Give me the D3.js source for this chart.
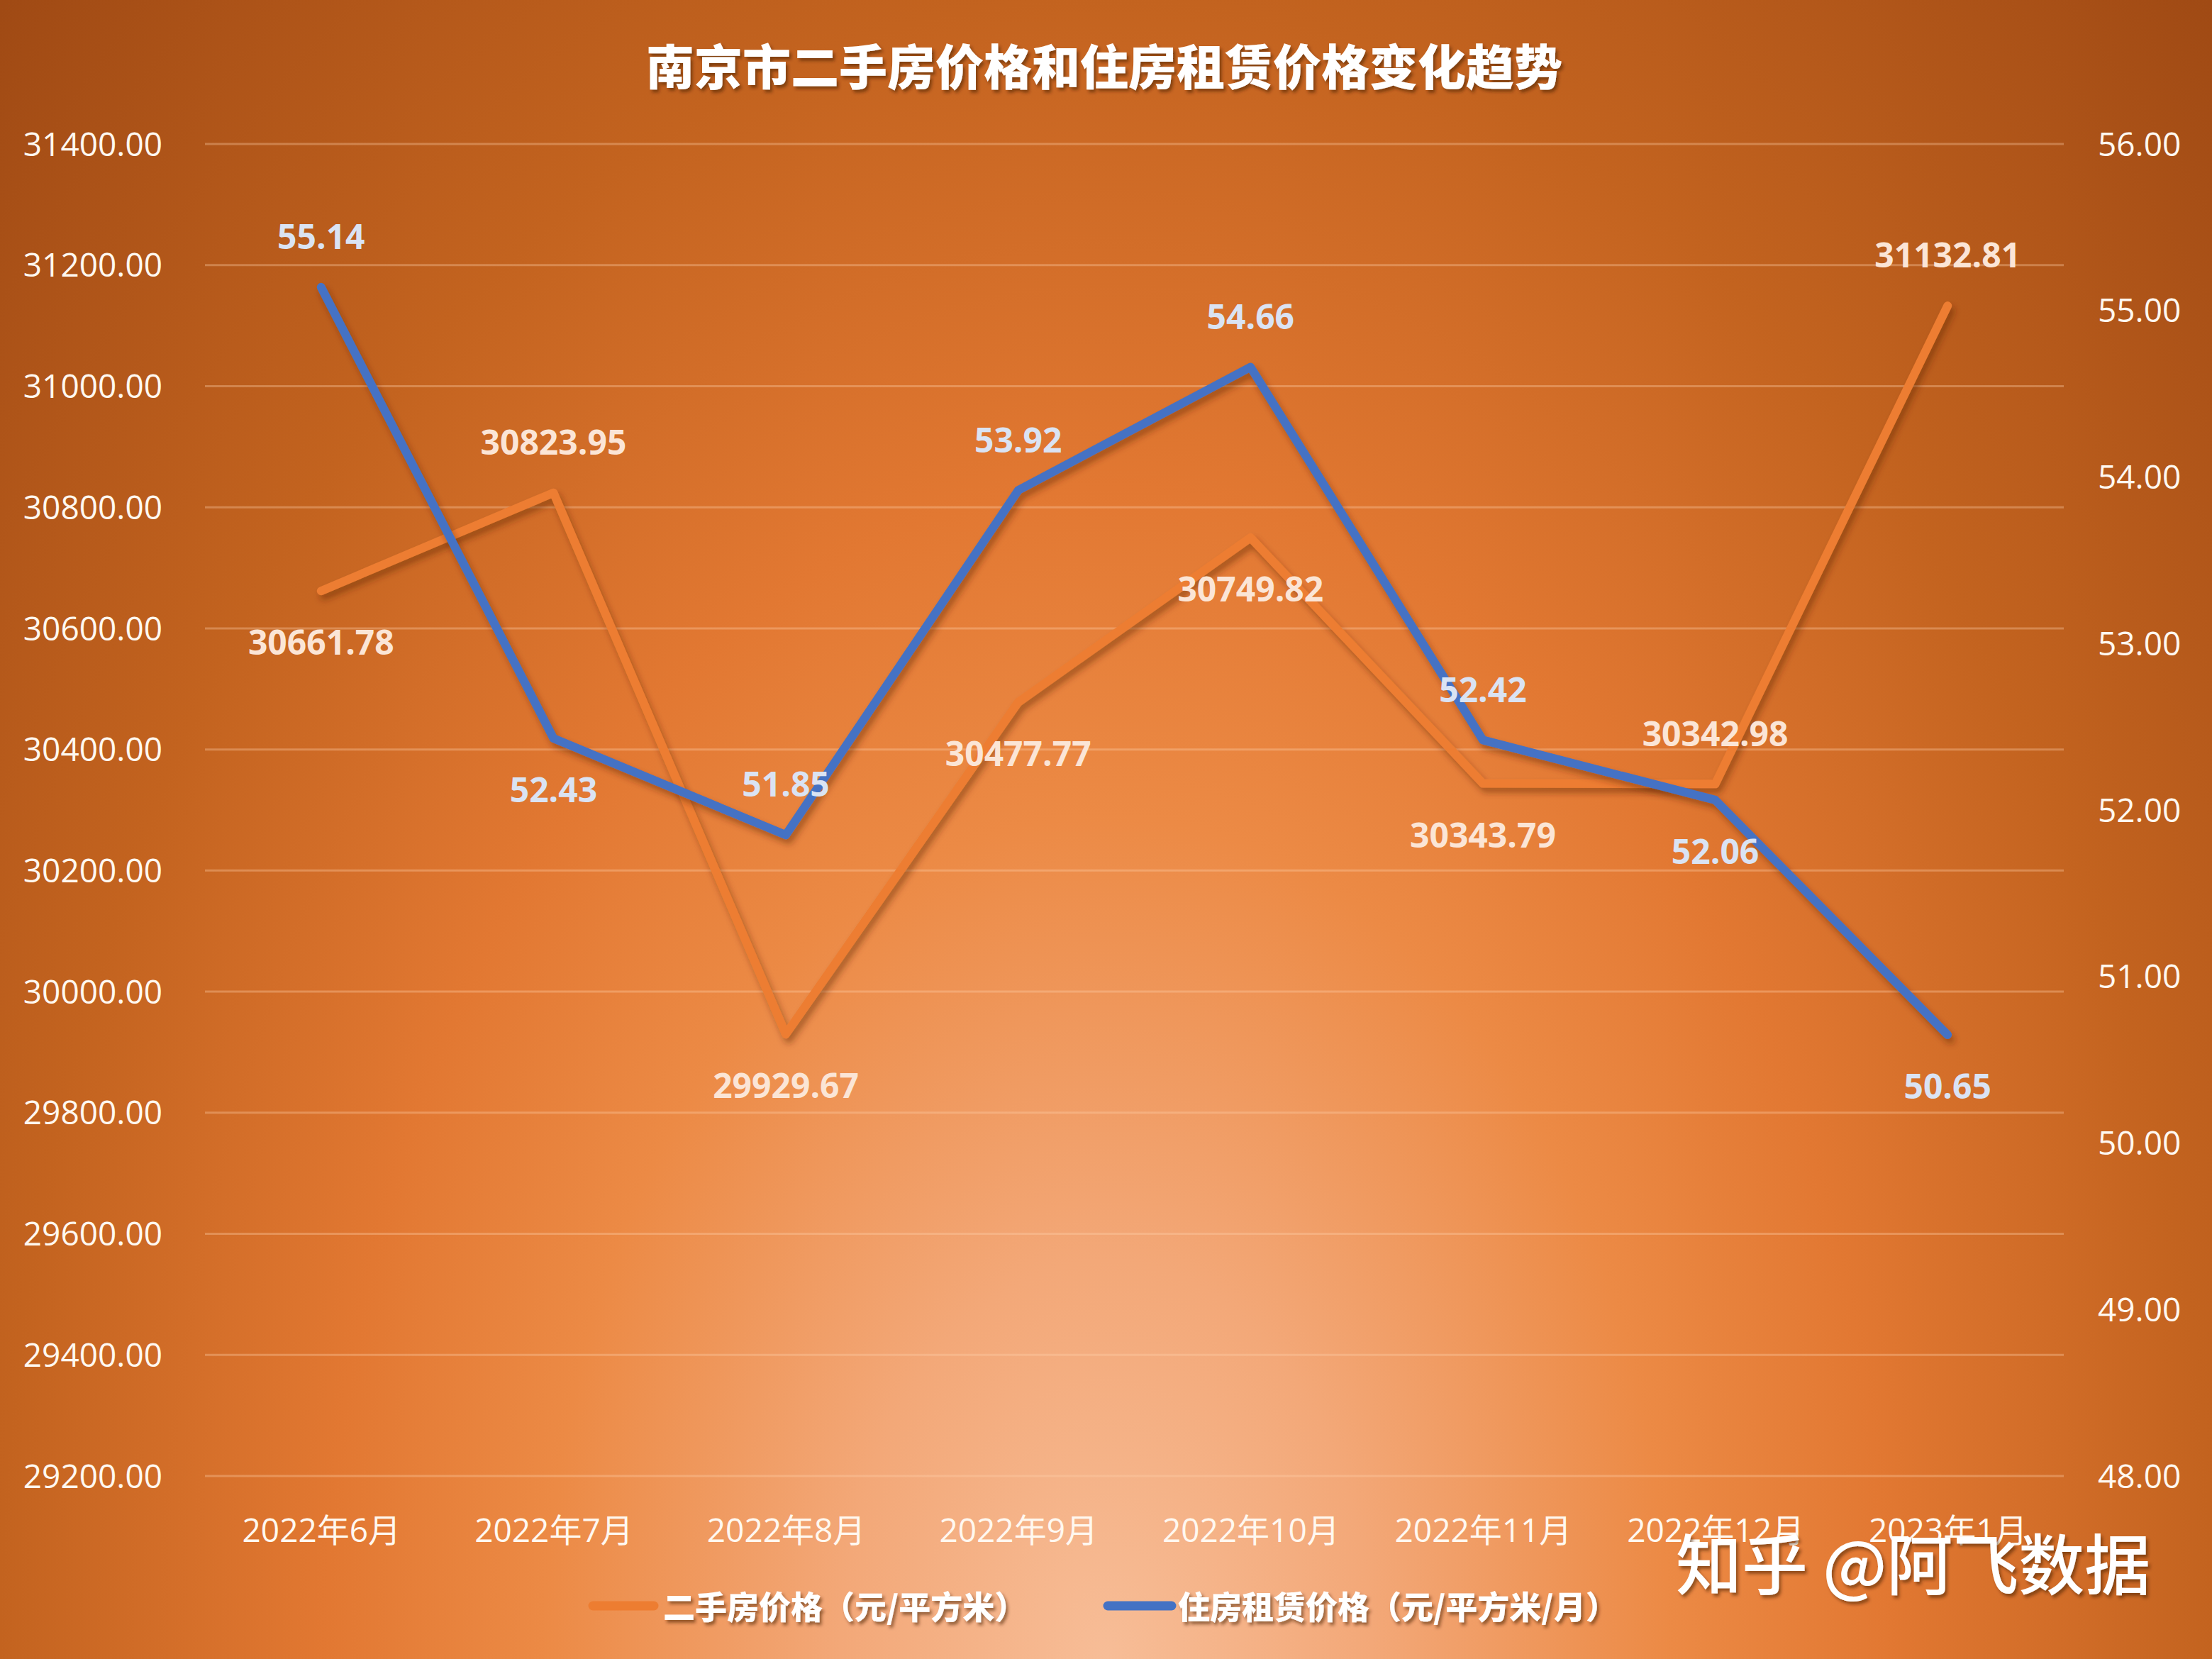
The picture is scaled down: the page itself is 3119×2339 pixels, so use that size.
<!DOCTYPE html>
<html><head><meta charset="utf-8">
<script src="https://cdn.jsdelivr.net/npm/d3@7"></script>
<style>html,body{margin:0;padding:0;background:#b85a1c;}svg{display:block;}</style>
</head><body>
<script>
const categories = ["2022年6月","2022年7月","2022年8月","2022年9月","2022年10月","2022年11月","2022年12月","2023年1月"];
const housePrice = [30661.78, 30823.95, 29929.67, 30477.77, 30749.82, 30343.79, 30342.98, 31132.81];
const rentPrice = [55.14, 52.43, 51.85, 53.92, 54.66, 52.42, 52.06, 50.65];
const leftTicks = [29200,29400,29600,29800,30000,30200,30400,30600,30800,31000,31200,31400];
const rightTicks = [48,49,50,51,52,53,54,55,56];
const houseLabelSide = [1,-1,1,1,1,1,-1,-1];   // 1 below, -1 above
const rentLabelSide = [-1,1,-1,-1,-1,-1,1,1];
const seriesNames = ["二手房价格（元/平方米）","住房租赁价格（元/平方米/月）"];
const title = "南京市二手房价格和住房租赁价格变化趋势";

const W = 3119, H = 2339;
const plot = {left: 289, right: 2910, top: 203, bottom: 2081};
const svg = d3.select("body").append("svg").attr("width", W).attr("height", H);
const defs = svg.append("defs");
const rg = defs.append("radialGradient").attr("id","bg").attr("gradientUnits","userSpaceOnUse")
  .attr("cx",0).attr("cy",0).attr("r",1)
  .attr("gradientTransform","translate(1560,2339) scale(2200,3300)");
[[0,"#f7bd97"],[0.17,"#f3a878"],[0.36,"#ec8a45"],[0.5,"#e27832"],[0.71,"#c3631f"],[1,"#a04a14"]]
  .forEach(([o,c])=>rg.append("stop").attr("offset",o).attr("stop-color",c));
const sh = defs.append("filter").attr("id","shadow").attr("x","-10%").attr("y","-10%").attr("width","130%").attr("height","130%");
sh.append("feDropShadow").attr("dx",4).attr("dy",7).attr("stdDeviation",5).attr("flood-color","#5a2400").attr("flood-opacity",0.45);
const tsh = defs.append("filter").attr("id","tshadow").attr("x","-5%").attr("y","-20%").attr("width","115%").attr("height","150%");
tsh.append("feDropShadow").attr("dx",3).attr("dy",4).attr("stdDeviation",2).attr("flood-color","#4a1e00").attr("flood-opacity",0.55);

svg.append("rect").attr("width",W).attr("height",H).attr("fill","url(#bg)");

const x = d3.scalePoint().domain(categories).range([plot.left, plot.right]).padding(0.5);
const yL = d3.scaleLinear().domain([29200,31400]).range([plot.bottom, plot.top]);
const yR = d3.scaleLinear().domain([48,56]).range([plot.bottom, plot.top]);

const font = "'Open Sans','Noto Sans CJK SC',sans-serif";

// gridlines
svg.append("g").selectAll("line").data(leftTicks).join("line")
  .attr("x1",plot.left).attr("x2",plot.right)
  .attr("y1",d=>yL(d)).attr("y2",d=>yL(d))
  .attr("stroke","#ffd2ad").attr("stroke-opacity",0.35).attr("stroke-width",3);

// left axis
const axL = svg.append("g").attr("transform",`translate(229,0)`)
  .call(d3.axisLeft(yL).tickValues(leftTicks).tickFormat(d3.format(".2f")).tickSize(0).tickPadding(0));
axL.select(".domain").remove();
axL.selectAll("text").attr("fill","#fff8f0").attr("font-size",46).attr("font-family",font).attr("dy","0.35em");

// right axis
const axR = svg.append("g").attr("transform",`translate(2958,0)`)
  .call(d3.axisRight(yR).tickValues(rightTicks).tickFormat(d3.format(".2f")).tickSize(0).tickPadding(0));
axR.select(".domain").remove();
axR.selectAll("text").attr("fill","#fff8f0").attr("font-size",46).attr("font-family",font).attr("dy","0.35em");

// x axis
const axX = svg.append("g").attr("transform",`translate(0,2158)`)
  .call(d3.axisBottom(x).tickSize(0).tickPadding(0));
axX.select(".domain").remove();
axX.selectAll("text").attr("fill","#fff8f0").attr("font-size",46).attr("font-family",font).attr("dy","0.35em");

// lines
const lineH = d3.line().x((d,i)=>x(categories[i])).y(d=>yL(d));
const lineR = d3.line().x((d,i)=>x(categories[i])).y(d=>yR(d));
svg.append("path").datum(housePrice).attr("d",lineH).attr("fill","none")
  .attr("stroke","#ED7D31").attr("stroke-width",12).attr("stroke-linecap","round").attr("stroke-linejoin","round")
  .attr("filter","url(#shadow)");
svg.append("path").datum(rentPrice).attr("d",lineR).attr("fill","none")
  .attr("stroke","#4472C4").attr("stroke-width",12).attr("stroke-linecap","round").attr("stroke-linejoin","round")
  .attr("filter","url(#shadow)");

// labels
svg.append("g").selectAll("text").data(housePrice).join("text")
  .attr("x",(d,i)=>x(categories[i])).attr("y",(d,i)=>yL(d)+houseLabelSide[i]*72)
  .attr("text-anchor","middle").attr("dy","0.38em")
  .attr("font-family",font).attr("font-weight",700).attr("font-size",48).attr("fill","#FBE5D6")
  .text(d=>d3.format(".2f")(d));
svg.append("g").selectAll("text").data(rentPrice).join("text")
  .attr("x",(d,i)=>x(categories[i])).attr("y",(d,i)=>yR(d)+rentLabelSide[i]*72)
  .attr("text-anchor","middle").attr("dy","0.38em")
  .attr("font-family",font).attr("font-weight",700).attr("font-size",48).attr("fill","#DAE3F3")
  .text(d=>d3.format(".2f")(d));

// title
svg.append("text").attr("x",1557).attr("y",96).attr("text-anchor","middle").attr("dy","0.35em")
  .attr("font-family","'Noto Sans CJK SC',sans-serif").attr("font-weight",900).attr("font-size",68)
  .attr("fill","#ffffff").attr("filter","url(#tshadow)").text(title);

// legend
const legend = [{name:seriesNames[0],color:"#ED7D31",x1:836,x2:922,tx:935},{name:seriesNames[1],color:"#4472C4",x1:1562,x2:1652,tx:1661}];
const lg = svg.append("g");
legend.forEach(l=>{
  lg.append("line").attr("x1",l.x1).attr("x2",l.x2).attr("y1",2264).attr("y2",2264)
    .attr("stroke",l.color).attr("stroke-width",13).attr("stroke-linecap","round");
  lg.append("text").attr("x",l.tx).attr("y",2267).attr("dy","0.35em")
    .attr("font-family","'Noto Sans CJK SC',sans-serif").attr("font-weight",900).attr("font-size",45)
    .attr("fill","#ffffff").attr("filter","url(#tshadow)").text(l.name);
});

// watermark
svg.append("text").attr("x",2363).attr("y",2208).attr("dy","0.35em")
  .attr("font-family","'Noto Sans CJK SC',sans-serif").attr("font-weight",500).attr("font-size",93)
  .attr("fill","#ffffff").attr("filter","url(#tshadow)").text("知乎 @阿飞数据");
</script>
</body></html>
